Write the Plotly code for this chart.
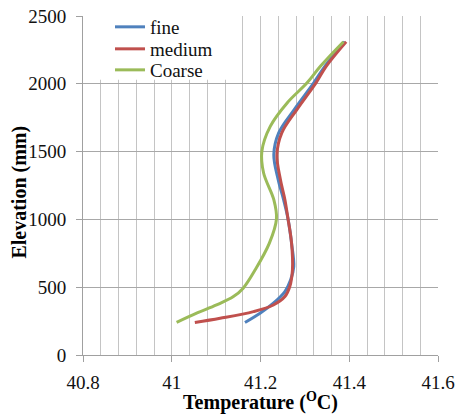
import plotly.graph_objects as go

# Data
fine_elev = [240, 308, 382, 468, 554, 652, 825, 1004, 1145, 1292, 1477, 1638, 1810, 2007, 2129, 2310]
fine_temp = [41.165, 41.199, 41.229, 41.255, 41.268, 41.275, 41.270, 41.262, 41.252, 41.240, 41.230, 41.241, 41.276, 41.320, 41.345, 41.390]

medium_elev = [240, 271, 320, 369, 431, 505, 628, 825, 1004, 1145, 1292, 1477, 1638, 1810, 2007, 2129, 2310]
medium_temp = [41.052, 41.109, 41.184, 41.229, 41.255, 41.266, 41.272, 41.270, 41.262, 41.255, 41.245, 41.237, 41.248, 41.282, 41.325, 41.348, 41.393]

coarse_elev = [240, 308, 369, 431, 493, 628, 825, 1004, 1145, 1342, 1501, 1686, 1859, 2007, 2129, 2310]
coarse_temp = [41.011, 41.056, 41.101, 41.139, 41.161, 41.188, 41.220, 41.236, 41.230, 41.207, 41.203, 41.222, 41.260, 41.305, 41.335, 41.387]

x_ticks = [40.8, 41.0, 41.2, 41.4, 41.6]
x_tick_labels = ["40.8", "41", "41.2", "41.4", "41.6"]
y_ticks = [0, 500, 1000, 1500, 2000, 2500]

FONT = "Liberation Serif, Times New Roman, serif"

fig = go.Figure()
series = [
    ("fine", fine_temp, fine_elev, "#4F81BD", "legend"),
    ("medium", medium_temp, medium_elev, "#C0504D", "legend2"),
    ("Coarse", coarse_temp, coarse_elev, "#9BBB59", "legend3"),
]
for name, xs, ys, color, lg in series:
    fig.add_trace(go.Scatter(
        x=xs, y=ys, name=name, mode="lines", legend=lg,
        line=dict(color=color, width=3, shape="spline", smoothing=1.0),
    ))

# white legend background box covering grid lines
fig.add_shape(type="rect", xref="x", yref="y", x0=40.8, x1=41.137, y0=2030, y1=2500,
              fillcolor="white", line=dict(width=0), layer="between")

# y-axis title as annotation for exact placement
fig.add_annotation(
    text="<b>Elevation (mm)</b>", textangle=-90,
    xref="paper", yref="paper", x=-0.18, y=0.5, yshift=-7,
    xanchor="center", yanchor="middle", showarrow=False,
    font=dict(family=FONT, size=20, color="black"),
)

legend_common = dict(
    xanchor="left", yanchor="middle",
    bgcolor="rgba(0,0,0,0)", borderwidth=0,
    font=dict(family=FONT, size=19, color="#111111"),
)
leg_x = 0.076
fig.update_layout(
    width=456, height=414,
    margin=dict(l=83, r=18, t=16, b=59, autoexpand=False),
    paper_bgcolor="white", plot_bgcolor="white",
    font=dict(family=FONT, size=19, color="#111111"),
    showlegend=True,
    legend=dict(x=leg_x, y=0.9676, **legend_common),
    legend2=dict(x=leg_x, y=0.9027, **legend_common),
    legend3=dict(x=leg_x, y=0.8407, **legend_common),
    xaxis=dict(
        range=[40.8, 41.6], automargin=False,
        tickvals=x_ticks, ticktext=x_tick_labels,
        showgrid=True, gridcolor="#c4c4c4", gridwidth=1,
        minor=dict(dtick=0.04, showgrid=True, gridcolor="#c4c4c4", gridwidth=1, ticks=""),
        showline=True, linecolor="#a0a0a0", linewidth=1,
        ticks="outside", ticklen=6, tickcolor="#a0a0a0",
        zeroline=False,
        ticklabelstandoff=4,
        title=dict(text="<b>Temperature (<sup>O</sup>C)</b>", font=dict(family=FONT, size=20, color="black"), standoff=3),
    ),
    yaxis=dict(
        range=[0, 2500], automargin=False,
        tickvals=y_ticks,
        showgrid=True, gridcolor="#a8a8a8", gridwidth=1,
        showline=True, linecolor="#a0a0a0", linewidth=1,
        ticks="outside", ticklen=6, tickcolor="#a0a0a0",
        zeroline=False,
        ticklabelstandoff=6,
    ),
)

fig.write_html(
    "out.html",
    config={"displayModeBar": False},
    post_script="document.body.style.margin='0px';document.body.style.padding='0px';document.body.style.overflow='hidden';",
)
